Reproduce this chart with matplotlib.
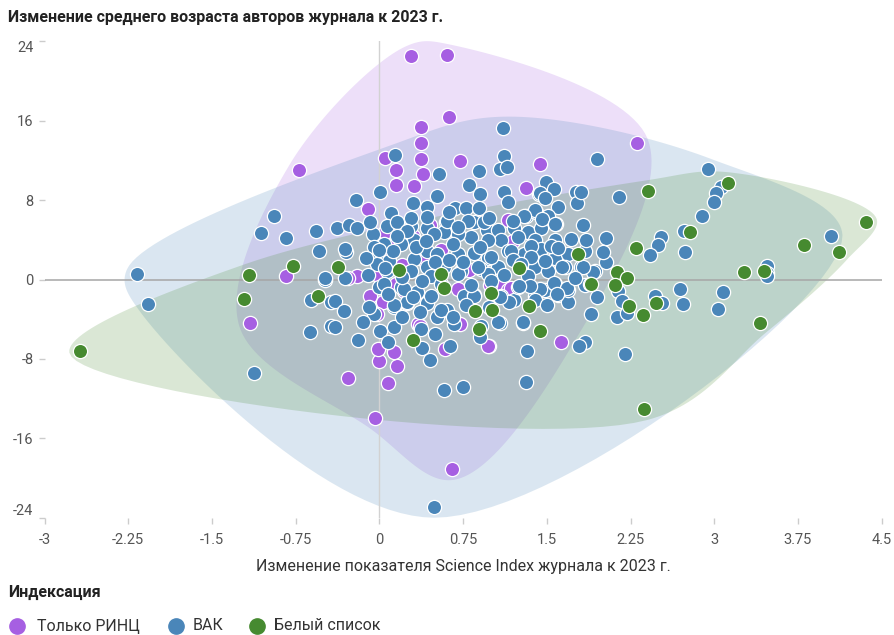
import numpy as np
import matplotlib
matplotlib.use("Agg")
from matplotlib import pyplot as plt
from matplotlib.lines import Line2D

plt.rcParams['font.family'] = ['Roboto', 'DejaVu Sans']

#%% data
title = "Изменение среднего возраста авторов журнала к 2023 г."
x_label = "Изменение показателя Science Index журнала к 2023 г."
legend_title = "Индексация"
groups = ["Только РИНЦ", "ВАК", "Белый список"]

x_ticks = [-3, -2.25, -1.5, -0.75, 0, 0.75, 1.5, 2.25, 3, 3.75, 4.5]
x_tick_labels = ["-3", "-2.25", "-1.5", "-0.75", "0", "0.75", "1.5", "2.25", "3", "3.75", "4.5"]
y_ticks = [-24, -16, -8, 0, 8, 16, 24]

# Только РИНЦ
rinc_pts = [
    (0.28, 22.5), (0.61, 22.6), (0.62, 16.4), (0.37, 15.4), (0.37, 13.8), (0.37, 12.1),
    (0.05, 12.2), (0.15, 11.0), (0.39, 10.6), (0.15, 9.5), (0.31, 9.4), (0.72, 11.9),
    (1.44, 11.6), (1.31, 9.2), (-0.10, 7.1), (-0.72, 11.0), (2.31, 13.8), (1.15, 6.0),
    (-0.84, 0.4), (-1.16, -4.4), (-0.28, -9.9), (0.08, -10.4), (-0.04, -14.0), (0.65, -19.1),
    (1.63, -6.3), (0.98, -6.7), (0.16, -8.7), (0.0, -8.2), (-0.01, -7.0), (0.13, -7.3),
    (0.59, -7.0), (-0.20, 0.35), (-0.28, 0.2), (0.35, -4.5), (0.72, -4.5), (1.08, -0.5),
    (0.99, -0.6), (1.15, -1.1), (-0.08, -1.7), (0.03, -2.3), (-0.02, -3.5), (0.36, -4.7),
    (0.97, -6.7), (0.09, 2.4), (-0.03, 0.6), (1.18, -0.9), (0.10, 3.4), (0.20, 1.5),
    (0.30, 4.4), (0.15, -0.5), (0.40, 2.0), (0.55, 3.0), (0.80, 1.0), (1.20, 3.9),
    (0.70, -1.0), (0.25, -2.4), (0.45, 5.5), (0.05, 4.8), (0.22, -1.2),
]

# ВАК
vak_pts = [
    (-2.17, 0.6), (-2.07, -2.5), (-1.12, -9.4), (-0.62, -5.3), (-0.49, 0.0), (-0.61, -2.1),
    (-0.43, -2.3), (-0.43, -4.7), (-0.94, 6.4), (-1.06, 4.7), (-0.84, 4.2), (-0.57, 4.9),
    (-0.54, 2.9), (-0.49, 0.2),
    (1.11, 15.3), (0.14, 12.5), (1.12, 12.4), (1.08, 11.1), (1.14, 11.3), (0.53, 10.6),
    (0.89, 10.9), (1.95, 12.1), (0.80, 9.5), (0.01, 8.8), (-0.21, 8.0), (0.52, 8.4),
    (0.90, 8.6), (1.12, 8.8), (1.15, 7.8), (1.49, 9.8), (1.56, 9.1), (1.43, 8.6),
    (1.76, 8.8), (1.77, 7.7), (1.60, 7.3), (0.30, 7.7), (0.43, 7.3), (0.68, 7.2),
    (0.78, 7.2), (0.89, 7.2), (1.31, 6.4), (1.40, 6.8), (1.51, 6.4), (1.82, 5.5),
    (-0.38, 5.2), (-0.27, 5.5), (-0.20, 5.2), (-0.30, 2.8), (0.10, 6.7), (0.17, 5.6),
    (0.28, 5.4), (-0.06, 4.6), (0.07, 5.4), (0.43, 5.2), (0.60, 5.8), (0.85, 5.8),
    (0.96, 5.0), (1.06, 5.0), (1.21, 5.2), (1.33, 4.8), (1.45, 5.2), (1.58, 5.6),
    (1.72, 4.1), (1.57, 4.0), (1.39, 4.0), (1.24, 4.3), (1.09, 4.0), (0.97, 4.0),
    (0.82, 4.3), (0.70, 4.6), (0.58, 4.8), (0.49, 4.6), (0.31, 4.0), (0.19, 3.6),
    (0.04, 3.6), (-0.05, 3.3), (-0.02, 2.2), (0.09, 1.9), (0.31, 2.1), (0.43, 2.9),
    (0.52, 2.6), (0.70, 2.6), (0.85, 2.7), (0.97, 2.2), (1.15, 2.9), (1.30, 2.6),
    (1.45, 3.1), (1.57, 2.2), (1.69, 2.6), (1.81, 1.3), (1.93, 0.9), (-0.31, 0.2),
    (0.46, 0.9), (0.73, 0.9), (0.91, 1.1), (1.06, 1.3), (1.39, 1.3), (1.51, 0.9),
    (2.94, 11.1), (2.15, 8.3), (3.06, 9.3), (3.02, 8.7), (3.00, 7.8), (2.89, 6.4),
    (1.81, 8.8), (2.03, 4.2), (2.52, 4.3), (2.50, 3.5), (2.42, 2.5), (2.73, 4.9),
    (2.74, 2.8), (4.05, 4.4), (3.47, 1.4), (3.47, 0.7), (2.03, 1.8), (1.91, 0.8),
    (1.82, 1.3), (1.84, 2.9),
    (1.84, -0.6), (2.14, -1.2), (2.17, -2.2), (2.13, -3.8), (2.22, -3.4), (1.90, -3.5),
    (2.47, -1.7), (2.53, -2.4), (2.69, -1.0), (2.72, -2.5), (3.08, -1.3), (3.03, -3.0),
    (3.47, 0.4), (1.84, -6.3), (2.20, -7.5),
    (-0.40, -2.2), (-0.32, -3.2), (-0.40, -4.8), (-0.19, -6.1), (0.01, -5.2), (0.13, -4.8),
    (0.08, -6.3), (0.37, -5.0), (0.38, -6.9), (0.45, -8.1), (0.63, -6.7), (0.58, -11.1),
    (0.75, -10.8), (1.31, -10.3), (1.32, -7.2), (1.29, -4.4), (1.08, -4.4), (0.91, -4.7),
    (0.90, -5.8), (0.49, -22.9), (0.67, -4.5), (0.13, -2.8), (0.25, -2.3), (0.43, -2.4),
    (0.61, -3.1), (0.52, -3.8), (-0.05, -3.5), (-0.09, -2.8), (0.0, -0.8), (0.19, -0.8),
    (0.34, -1.3), (0.46, -1.7), (0.76, -1.7), (0.85, -1.6), (1.09, -1.7), (1.21, -2.1),
    (1.24, -0.8), (1.39, -1.7), (1.48, -1.1), (1.60, -1.6), (1.69, -2.3), (1.57, -0.45),
    (1.69, -1.1), (1.89, -0.45), (1.66, 1.3), (1.33, 0.4), (0.97, 0.6), (0.88, 1.3),
    (0.70, 0.6), (0.58, 1.3), (0.43, 1.3), (0.28, 0.9), (0.07, 0.9), (-0.02, 1.6),
    (0.04, -0.45),
    (0.28, 6.2), (0.43, 6.3), (0.61, 5.9), (0.79, 5.9), (0.94, 5.8), (0.16, 5.8),
    (-0.31, 3.1), (1.44, 8.7), (1.48, 8.2), (1.39, 7.0), (1.30, 6.4), (1.46, 6.1),
    (1.57, 5.6), (1.54, 3.4), (1.36, 3.4), (1.18, 2.9),
    (0.13, -2.6), (0.55, -3.1), (0.66, -3.8), (1.06, -4.3), (0.22, -1.0), (0.46, 0.4),
    (0.85, -1.7), (1.36, 2.3), (1.64, 1.3), (1.29, -4.3), (1.79, -6.7),
    (1.0, 2.3), (1.2, 2.0), (1.48, 1.9), (1.56, -0.4), (1.68, -0.9), (1.59, -1.5),
    (1.44, -1.0), (1.35, -0.7), (1.25, -0.7), (1.16, -2.3), (1.08, -1.8), (1.39, -2.1),
    (0.05, 1.2), (0.12, 2.9), (0.2, 0.3), (0.33, 3.3), (0.38, -0.2), (0.5, 1.8),
    (0.62, 2.0), (0.66, 3.6), (0.75, 1.8), (0.9, 3.3), (1.0, -0.2), (1.12, 0.5),
    (1.27, 1.6), (0.55, -0.5), (0.3, -1.8), (0.08, -1.5), (-0.1, 0.5), (-0.12, 2.2),
    (0.0, 3.0), (0.25, 4.9), (0.62, 6.8), (0.98, 6.2), (1.2, 5.9), (0.7, 5.3),
    (0.42, 3.9), (0.16, 4.4), (-0.08, 5.8), (0.36, -3.3), (0.78, -2.6), (0.98, -2.8),
    (0.2, -3.8), (-0.15, -4.3), (0.5, -5.5), (0.82, -0.6), (1.5, -2.6), (1.75, 0.2),
    (1.6, 3.2), (1.85, 4.0), (2.0, 2.8), (1.95, -1.8),
]

# Белый список
white_pts = [
    (-2.68, -7.2), (-1.17, 0.5), (-1.21, -2.0), (-0.77, 1.4), (-0.55, -1.7), (-0.37, 1.3),
    (0.18, 1.0), (0.55, 0.6), (1.25, 1.2), (1.78, 2.6), (2.41, 8.9), (3.12, 9.7),
    (4.36, 5.8), (2.78, 4.8), (2.30, 3.2), (3.80, 3.5), (4.12, 2.8), (3.27, 0.8),
    (3.45, 0.9), (2.13, 0.8), (2.22, 0.2), (1.90, -0.5), (2.11, -0.6), (2.24, -2.7),
    (2.36, -3.6), (2.48, -2.4), (3.41, -4.4), (2.37, -13.1), (0.58, -0.9), (0.30, -6.1),
    (0.86, -3.2), (1.00, -1.4), (1.01, -3.1), (0.89, -5.0), (1.34, -2.7), (1.44, -5.2),
]

colors = ["#a65fe2", "#4a86b9", "#468a30"]

#%% helpers for the group outlines
SX, SY = 111.6, 9.9   # pixels per data unit


def convex_hull(P):
    pts = sorted(set(map(tuple, P)))

    def cross(o, a, b):
        return (a[0] - o[0]) * (b[1] - o[1]) - (a[1] - o[1]) * (b[0] - o[0])
    lower, upper = [], []
    for p in pts:
        while len(lower) >= 2 and cross(lower[-2], lower[-1], p) <= 0:
            lower.pop()
        lower.append(p)
    for p in reversed(pts):
        while len(upper) >= 2 and cross(upper[-2], upper[-1], p) <= 0:
            upper.pop()
        upper.append(p)
    return np.array(lower[:-1] + upper[:-1], dtype=float)


def catmull_rom_closed(Q, n=30):
    m = len(Q)
    res = []
    for i in range(m):
        p0, p1, p2, p3 = Q[i - 1], Q[i], Q[(i + 1) % m], Q[(i + 2) % m]
        t0 = 0.0
        t1 = t0 + np.hypot(*(p1 - p0)) ** 0.5
        t2 = t1 + np.hypot(*(p2 - p1)) ** 0.5
        t3 = t2 + np.hypot(*(p3 - p2)) ** 0.5
        t = np.linspace(t1, t2, n, endpoint=False)[:, None]
        a1 = (t1 - t) / (t1 - t0) * p0 + (t - t0) / (t1 - t0) * p1
        a2 = (t2 - t) / (t2 - t1) * p1 + (t - t1) / (t2 - t1) * p2
        a3 = (t3 - t) / (t3 - t2) * p2 + (t - t2) / (t3 - t2) * p3
        b1 = (t2 - t) / (t2 - t0) * a1 + (t - t0) / (t2 - t0) * a2
        b2 = (t3 - t) / (t3 - t1) * a2 + (t - t1) / (t3 - t1) * a3
        res.append((t2 - t) / (t2 - t1) * b1 + (t - t1) / (t2 - t1) * b2)
    return np.vstack(res)


def blob(pts, pad=11):
    P = np.asarray(pts) * [SX, SY]
    H = convex_hull(P)
    m = len(H)
    out = []
    for i in range(m):
        a, b, c = H[i - 1], H[i], H[(i + 1) % m]
        e1, e2 = b - a, c - b
        n1 = np.array([e1[1], -e1[0]]) / np.hypot(*e1)
        n2 = np.array([e2[1], -e2[0]]) / np.hypot(*e2)
        nv = n1 + n2
        out.append(b + nv / np.hypot(*nv) * pad)
    C = catmull_rom_closed(np.array(out))
    return C / [SX, SY]


#%% figure
fig = plt.figure(figsize=(8.95, 6.35), dpi=100)
ax = fig.add_axes([44.5 / 895, 1 - 517.6 / 635, (881.7 - 44.5) / 895, (517.6 - 41.4) / 635])

all_pts = [rinc_pts, vak_pts, white_pts]
for pts, col in zip(all_pts, colors):
    C = blob(pts)
    ax.fill(C[:, 0], C[:, 1], color=col, alpha=0.2, lw=0, zorder=1, clip_on=False)

ax.axhline(0, color="#a6a6a6", lw=1.1, zorder=2)
ax.axvline(0, color="#d2d2d2", lw=1.0, zorder=2)

for pts, col, name in zip(all_pts, colors, groups):
    a = np.array(pts)
    ax.scatter(a[:, 0], a[:, 1], s=105, color=col, edgecolor="white", linewidth=0.9,
               zorder=3, label=name, clip_on=False)

ax.set_xlim(-3, 4.5)
ax.set_ylim(-24, 24)
for s in ax.spines.values():
    s.set_visible(False)
ax.set_xticks(x_ticks)
ax.set_xticklabels(x_tick_labels)
ax.set_yticks(y_ticks)
ax.set_yticklabels([str(v) for v in y_ticks])
ax.tick_params(axis="both", length=4, width=1, color="#cccccc", labelcolor="#555555",
               labelsize=10.5)
ax.tick_params(axis="y", pad=4)
ax.tick_params(axis="x", pad=7)
ylabs = ax.get_yticklabels()
ylabs[0].set_va("bottom")
ylabs[-1].set_va("top")

fig.text(8 / 895, 1 - 17 / 635, title, fontsize=11.5, weight="semibold", color="#222222",
         va="center", ha="left")
fig.text(463 / 895, 1 - 566 / 635, x_label, fontsize=11.5, color="#333333",
         va="center", ha="center")

# legend
fig.text(8 / 895, 1 - 592 / 635, legend_title, fontsize=11.5, weight="semibold",
         color="#222222", va="center", ha="left")
leg_mark_x = [17, 176, 257]
leg_text_x = [37, 193, 274]
for mx, tx, col, name in zip(leg_mark_x, leg_text_x, colors, groups):
    fig.add_artist(Line2D([mx / 895], [1 - 626 / 635], transform=fig.transFigure,
                          marker="o", markersize=11, color=col, markeredgecolor=col, lw=0))
    fig.text(tx / 895, 1 - 626 / 635, name, fontsize=11.5, color="#333333",
             va="center", ha="left")

fig.savefig("out.png", dpi=100)
